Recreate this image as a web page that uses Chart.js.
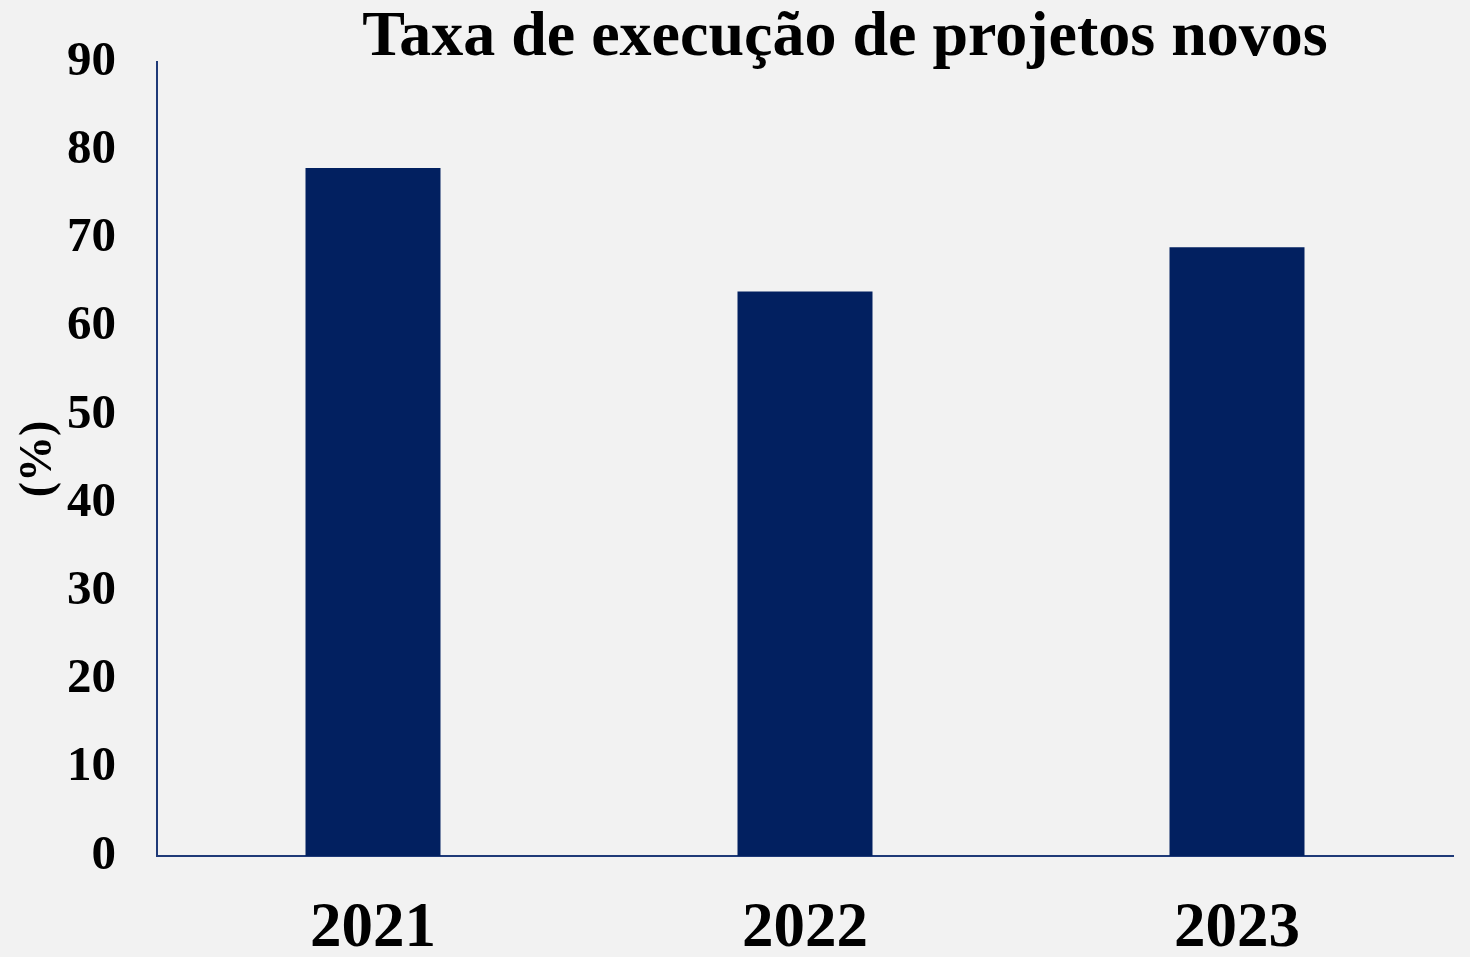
<!DOCTYPE html>
<html lang="pt">
<head>
<meta charset="utf-8">
<script src="https://cdn.jsdelivr.net/npm/chart.js@4"></script>
<style>
  html, body { margin: 0; padding: 0; background: #f2f2f2; }
  #wrap { position: relative; width: 1470px; height: 957px; }
  #titulo {
    position: absolute; left: 345px; top: 0; width: 1000px;
    text-align: center; white-space: nowrap;
    font: bold 64px "Liberation Serif", "Times New Roman", serif;
    line-height: 68px; color: #000;
  }
  canvas { display: block; }
</style>
</head>
<body>
<div id="wrap">
  <div id="titulo">Taxa de execução de projetos novos</div>
  <canvas id="grafico" width="1470" height="957"></canvas>
</div>
<script>
// Dados do gráfico
const anos = ['2021', '2022', '2023'];
const taxas = [78, 64, 69];
const eixoY = { min: 0, max: 90, passo: 10 };

const corBarra = '#022060';
const corEixo = '#1f3a78';
const fonte = '"Liberation Serif", "Times New Roman", serif';

const ctx = document.getElementById('grafico');
new Chart(ctx, {
  type: 'bar',
  data: {
    labels: anos,
    datasets: [{
      data: taxas,
      backgroundColor: corBarra,
      borderWidth: 0,
      barPercentage: 0.3125,
      categoryPercentage: 1
    }]
  },
  options: {
    responsive: false,
    animation: false,
    layout: { padding: { top: 0, right: 17, bottom: 0, left: 0 } },
    plugins: {
      legend: { display: false },
      tooltip: { enabled: false }
    },
    scales: {
      x: {
        grid: { display: false, drawTicks: false },
        border: { display: true, color: corEixo, width: 2 },
        ticks: {
          color: '#000',
          padding: 36,
          font: { family: fonte, size: 63, weight: 'bold' }
        },
        afterFit: function(escala) { escala.height = 101; }
      },
      y: {
        min: eixoY.min,
        max: eixoY.max,
        grid: { display: false, drawTicks: false },
        border: { display: true, color: corEixo, width: 2 },
        ticks: {
          stepSize: eixoY.passo,
          color: '#000',
          padding: 41,
          font: { family: fonte, size: 49, weight: 'bold', lineHeight: 0.86 }
        },
        title: {
          display: true,
          text: '(%)',
          color: '#000',
          padding: { top: 12, bottom: 0 },
          font: { family: fonte, size: 46, weight: 'bold' }
        },
        afterFit: function(escala) { escala.width = 157; }
      }
    }
  }
});
</script>
</body>
</html>
